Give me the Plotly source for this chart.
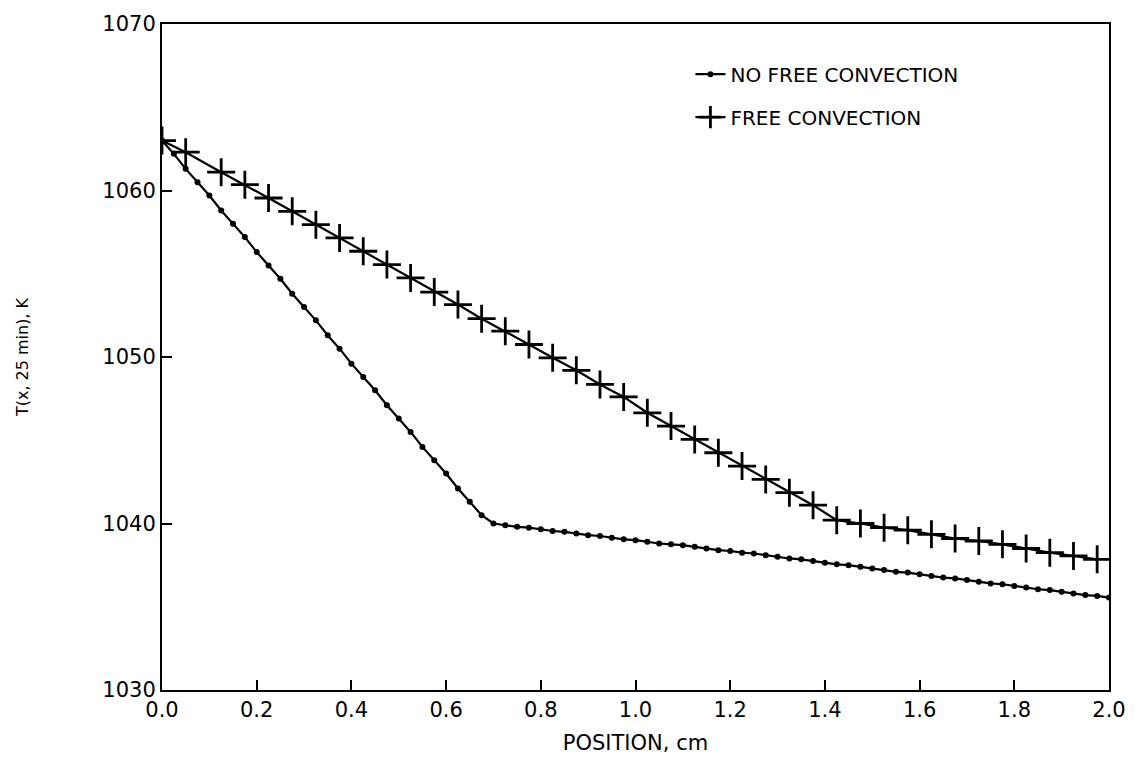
import plotly.graph_objects as go

# NO FREE CONVECTION: position (cm) and temperature (K)
x_nofree = [round(0.025 * k, 3) for k in range(81)]
t_nofree = [
    1063.0, 1062.2, 1061.3, 1060.5, 1059.7, 1058.8, 1058.0, 1057.2, 1056.3, 1055.5,
    1054.7, 1053.8, 1053.0, 1052.2, 1051.3, 1050.5, 1049.6, 1048.8, 1048.0, 1047.1,
    1046.3, 1045.5, 1044.6, 1043.8, 1043.0, 1042.1, 1041.3, 1040.5, 1040.0, 1039.9,
    1039.8, 1039.75, 1039.65, 1039.55, 1039.5, 1039.4, 1039.3, 1039.25, 1039.15, 1039.05,
    1039.0, 1038.9, 1038.8, 1038.75, 1038.7, 1038.6, 1038.5, 1038.4, 1038.35, 1038.25,
    1038.2, 1038.1, 1038.0, 1037.9, 1037.85, 1037.75, 1037.65, 1037.55, 1037.5, 1037.4,
    1037.3, 1037.2, 1037.1, 1037.05, 1036.95, 1036.85, 1036.75, 1036.7, 1036.6, 1036.5,
    1036.4, 1036.35, 1036.25, 1036.15, 1036.05, 1036.0, 1035.9, 1035.8, 1035.7, 1035.65,
    1035.55,
]

# FREE CONVECTION
x_free = [0.0, 0.05, 0.125, 0.175, 0.225, 0.275, 0.325, 0.375, 0.425, 0.475,
          0.525, 0.575, 0.625, 0.675, 0.725, 0.775, 0.825, 0.875, 0.925, 0.975,
          1.025, 1.075, 1.125, 1.175, 1.225, 1.275, 1.325, 1.375, 1.425, 1.475,
          1.525, 1.575, 1.625, 1.675, 1.725, 1.775, 1.825, 1.875, 1.925, 1.975]
t_free = [1063.0, 1062.3, 1061.1, 1060.35, 1059.55, 1058.75, 1057.95, 1057.15, 1056.35, 1055.55,
          1054.75, 1053.9, 1053.15, 1052.3, 1051.55, 1050.75, 1049.95, 1049.2, 1048.35, 1047.6,
          1046.65, 1045.85, 1045.05, 1044.25, 1043.45, 1042.65, 1041.85, 1041.1, 1040.2, 1040.0,
          1039.75, 1039.6, 1039.35, 1039.1, 1038.95, 1038.75, 1038.5, 1038.25, 1038.05, 1037.85]

x_ticks = [0.0, 0.2, 0.4, 0.6, 0.8, 1.0, 1.2, 1.4, 1.6, 1.8, 2.0]
y_ticks = [1030, 1040, 1050, 1060, 1070]

FONT = "DejaVu Sans"

fig = go.Figure()
fig.add_trace(go.Scatter(
    x=x_nofree, y=t_nofree, mode="lines+markers", name="NO FREE CONVECTION",
    legendgroup="a",
    line=dict(color="black", width=2.2),
    marker=dict(symbol="circle", size=6, color="black"),
))
fig.add_trace(go.Scatter(
    x=x_free, y=t_free, mode="lines+markers", name="FREE CONVECTION",
    legendgroup="b",
    line=dict(color="black", width=2.2),
    marker=dict(symbol="cross-thin", size=20, color="black",
                line=dict(color="black", width=2.8)),
))

fig.update_layout(
    width=1138, height=770,
    margin=dict(l=162, r=24, t=22, b=80),
    paper_bgcolor="white", plot_bgcolor="white",
    font=dict(family=FONT, color="black", size=21),
    legend=dict(
        x=0.558, y=0.954, xanchor="left", yanchor="top",
        bgcolor="rgba(0,0,0,0)", font=dict(family=FONT, size=20, color="black"),
        traceorder="grouped", tracegroupgap=14,
    ),
    xaxis=dict(
        range=[0, 2.0], tickvals=x_ticks, ticktext=[f"{v:.1f}" for v in x_ticks],
        ticks="inside", ticklen=10, tickwidth=1.5, tickcolor="black",
        showline=True, linecolor="black", linewidth=2, mirror=True,
        showgrid=False, zeroline=False,
        tickfont=dict(family=FONT, size=21),
        title=dict(text="POSITION, cm", font=dict(family=FONT, size=21), standoff=14),
    ),
    yaxis=dict(
        range=[1030, 1070], tickvals=y_ticks, ticktext=[str(v) for v in y_ticks],
        ticks="inside", ticklen=10, tickwidth=1.5, tickcolor="black",
        showline=True, linecolor="black", linewidth=2, mirror=True,
        showgrid=False, zeroline=False,
        tickfont=dict(family=FONT, size=21),
        title=dict(text="T(x, 25 min), K", font=dict(family=FONT, size=16), standoff=70),
    ),
)

fig.write_html("out.html")
